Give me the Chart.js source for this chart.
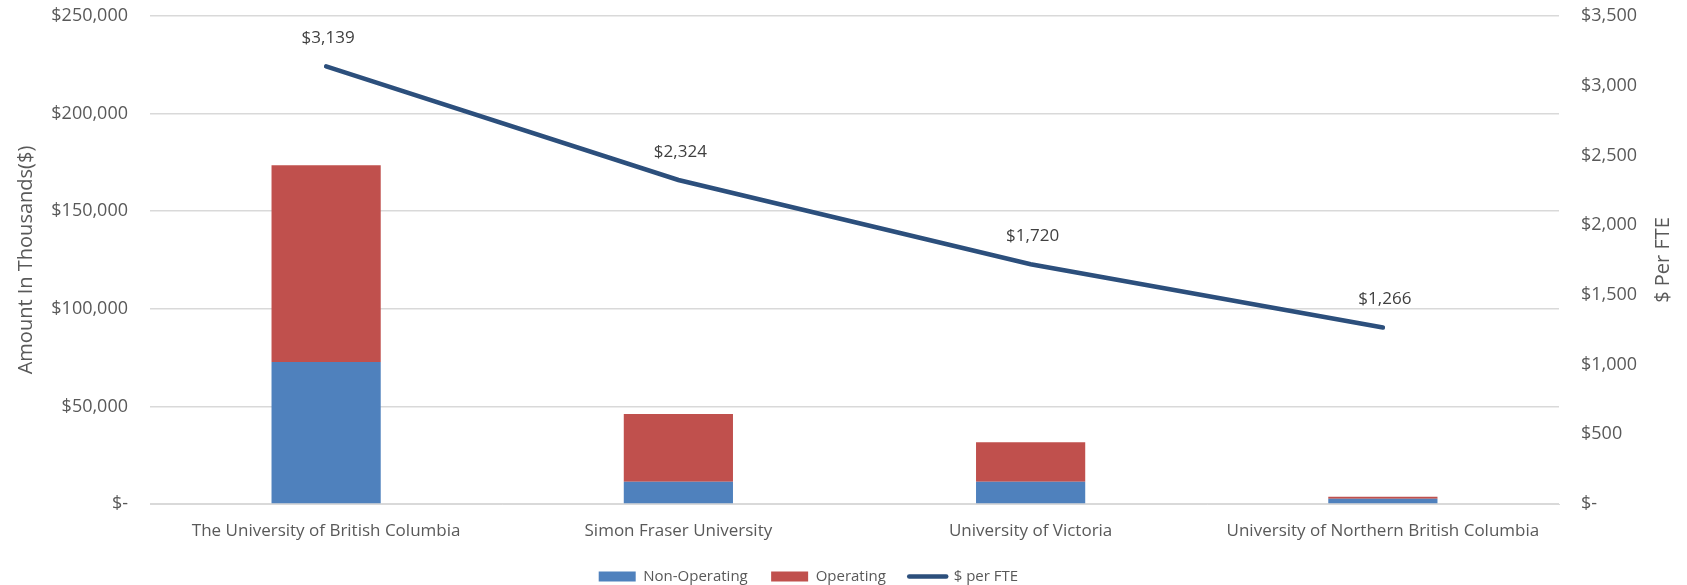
<!DOCTYPE html>
<html>
<head>
<meta charset="utf-8">
<script src="https://cdn.jsdelivr.net/npm/chart.js@4/dist/chart.umd.min.js"></script>
<style>
  html, body { margin: 0; padding: 0; background: #fff; }
  #wrap { width: 1687px; height: 585px; }
</style>
</head>
<body>
<div id="wrap"><canvas id="report"></canvas></div>
<script>
var universities = ['The University of British Columbia', 'Simon Fraser University', 'University of Victoria', 'University of Northern British Columbia'];
var nonOperating = [72700, 11400, 11400, 2700];
var operating = [100800, 34700, 20200, 1000];
var perFte = [3139, 2324, 1720, 1266];

var textColor = '#595959';
var fontFamily = '"Open Sans", "Noto Sans", sans-serif';

function money(v) {
    if (v === 0) return '$-';
    return '$' + v.toLocaleString('en-US');
}

// small stand-in for the datalabels plugin (only the line gets labels)
// plus the right-hand axis title, which Excel writes bottom-to-top
var extraText = {
    id: 'extraText',
    afterDatasetsDraw: function(chart) {
        var ctx = chart.ctx;
        var meta = chart.getDatasetMeta(2);
        ctx.save();
        ctx.font = '17px ' + fontFamily;
        ctx.fillStyle = '#404040';
        ctx.textAlign = 'center';
        ctx.textBaseline = 'middle';
        meta.data.forEach(function(pt, i) {
            ctx.fillText(money(perFte[i]), pt.x + 2, pt.y - 28);
        });

        var area = chart.chartArea;
        ctx.fillStyle = textColor;
        ctx.font = '20px ' + fontFamily;
        ctx.translate(1663, (area.top + area.bottom) / 2);
        ctx.rotate(-Math.PI / 2);
        ctx.fillText('$ Per FTE', 0, 0);
        ctx.restore();
    }
};

var scoresChart = new Chart(document.getElementById('report').getContext('2d'), {
    type: 'bar',
    data: {
        labels: universities,
        datasets: [{
            label: 'Non-Operating',
            data: nonOperating,
            backgroundColor: '#4F81BD',
            borderWidth: 0,
            stack: 'amt',
            yAxisID: 'y',
            barPercentage: 0.31,
            categoryPercentage: 1,
            order: 2
        }, {
            label: 'Operating',
            data: operating,
            backgroundColor: '#C0504D',
            borderWidth: 0,
            stack: 'amt',
            yAxisID: 'y',
            barPercentage: 0.31,
            categoryPercentage: 1,
            order: 2
        }, {
            type: 'line',
            label: '$ per FTE',
            data: perFte,
            borderColor: '#2C4F7C',
            backgroundColor: '#2C4F7C',
            borderWidth: 4.5,
            borderCapStyle: 'round',
            pointRadius: 0,
            tension: 0,
            yAxisID: 'y1',
            order: 1
        }]
    },
    options: {
        responsive: true,
        maintainAspectRatio: false,
        animation: false,
        layout: { padding: { top: 16, left: 0, right: 0, bottom: -9 } },
        plugins: {
            tooltip: { enabled: false },
            legend: {
                position: 'bottom',
                labels: {
                    usePointStyle: true,
                    pointStyleWidth: 37,
                    boxHeight: 10,
                    padding: 0,
                    color: textColor,
                    font: { family: fontFamily, size: 15 },
                    generateLabels: function(chart) {
                        // trailing spaces give Excel-like gaps and pull the row left of centre
                        return chart.data.datasets.map(function(ds, i) {
                            var isLine = ds.type === 'line';
                            return {
                                text: ds.label + (isLine ? '                  ' : '      '),
                                fillStyle: isLine ? ds.borderColor : ds.backgroundColor,
                                strokeStyle: isLine ? ds.borderColor : ds.backgroundColor,
                                lineWidth: isLine ? 4.5 : 0,
                                lineCap: 'round',
                                pointStyle: isLine ? 'line' : 'rect',
                                fontColor: textColor,
                                datasetIndex: i
                            };
                        });
                    }
                }
            }
        },
        scales: {
            x: {
                grid: { display: false },
                border: { color: '#D9D9D9' },
                ticks: { color: textColor, font: { family: fontFamily, size: 17 }, maxRotation: 0, padding: 9 },
                afterFit: function(axis) { axis.height = 65; }
            },
            y: {
                position: 'left',
                stacked: true,
                min: 0,
                max: 250000,
                ticks: {
                    stepSize: 50000,
                    color: textColor,
                    font: { family: fontFamily, size: 18 },
                    padding: 22,
                    callback: function(v) { return money(v); }
                },
                grid: { color: '#D9D9D9', lineWidth: 1.5, drawTicks: false },
                border: { display: false },
                title: {
                    display: true,
                    text: 'Amount In Thousands($)',
                    color: textColor,
                    font: { family: fontFamily, size: 20 },
                    padding: { top: 14, bottom: 0 }
                },
                afterFit: function(axis) { axis.width = 150; axis.paddingTop = 0; }
            },
            y1: {
                position: 'right',
                min: 0,
                max: 3500,
                ticks: {
                    stepSize: 500,
                    color: textColor,
                    font: { family: fontFamily, size: 18 },
                    padding: 22,
                    callback: function(v) { return money(v); }
                },
                grid: { display: false, drawTicks: false },
                border: { display: false },
                afterFit: function(axis) { axis.width = 128; axis.paddingTop = 0; }
            }
        }
    },
    plugins: [extraText]
});
</script>
</body>
</html>
